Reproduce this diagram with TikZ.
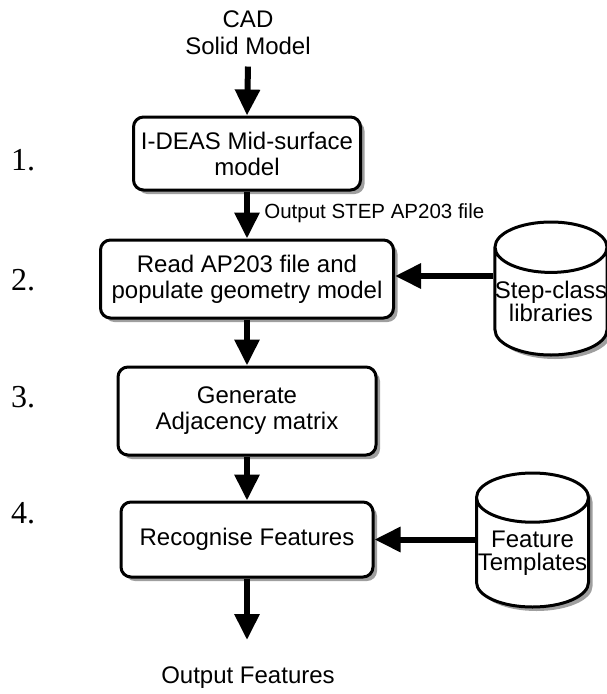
\documentclass[tikz,border=0pt]{standalone}
\usepackage{fontspec}
\setmainfont{Liberation Sans}
\newfontfamily\numfont{Liberation Serif}
\usetikzlibrary{arrows.meta,shapes.geometric,shadows}
\begin{document}
\begin{tikzpicture}[x=1pt, y=-1pt,
    shade/.style={drop shadow={shadow xshift=4pt, shadow yshift=-4pt, fill=gray!75, opacity=1}},
    proc/.style={draw, line width=3pt, rounded corners=10pt, fill=white, shade, align=center,
      inner sep=0pt, font=\fontsize{24}{26}\selectfont},
    store/.style={cylinder, shape border rotate=90, aspect=0.45, draw, line width=3pt, fill=white,
      shade, align=center, inner sep=0pt, minimum width=112pt, anchor=shape center,
      font=\fontsize{24}{23}\selectfont},
    flow/.style={line width=6pt, -{Triangle[length=26pt,width=24pt]}},
    num/.style={anchor=west, inner sep=0pt, font=\numfont\fontsize{32}{32}\selectfont}]
    \useasboundingbox (0,0) rectangle (607,694);

    \node[align=center, font=\fontsize{24}{27}\selectfont] (cad) at (248,33) {CAD\\Solid Model};
    \node[proc, minimum width=227pt, minimum height=73pt] (ideas) at (247,153.5) {I-DEAS Mid-surface\\model};
    \node[proc, minimum width=293pt, minimum height=78pt] (read) at (247,279) {Read AP203 file and\\populate geometry model};
    \node[proc, minimum width=258pt, minimum height=88pt] (adj) at (247,411) {Generate\\Adjacency matrix};
    \node[proc, minimum width=252pt, minimum height=75pt] (recog) at (247,539.5) {Recognise Features};
    \coordinate (outend) at (247,640);
    \node[font=\fontsize{24}{26}\selectfont] (outfeat) at (248,678) {Output Features};

    \node[store, minimum height=133pt] (stepcls) at (551,288.5) {Step-class\\libraries};
    \node[store, minimum height=134pt] (templ) at (532.5,540) {Feature\\Templates};

    \node[num] (n1) at (11,160) {1.};
    \node[num] (n2) at (11,280) {2.};
    \node[num] (n3) at (11,397) {3.};
    \node[num] (n4) at (11,513) {4.};

    \draw[flow] ([yshift=-8pt]cad.south) -- (ideas.north);
    \draw[flow] (ideas.south) -- (read.north)
      node[midway, right, xshift=11pt, yshift=2pt, font=\fontsize{20.5}{22}\selectfont] {Output STEP AP203 file};
    \draw[flow] (read.south) -- (adj.north);
    \draw[flow] (adj.south) -- (recog.north);
    \draw[flow] (recog.south) -- (outend);
    \draw[flow] (stepcls.west |- 0,276) -- (read.east |- 0,276);
    \draw[flow] (templ.west |- recog.east) -- (recog.east);
  \end{tikzpicture}
\end{document}
